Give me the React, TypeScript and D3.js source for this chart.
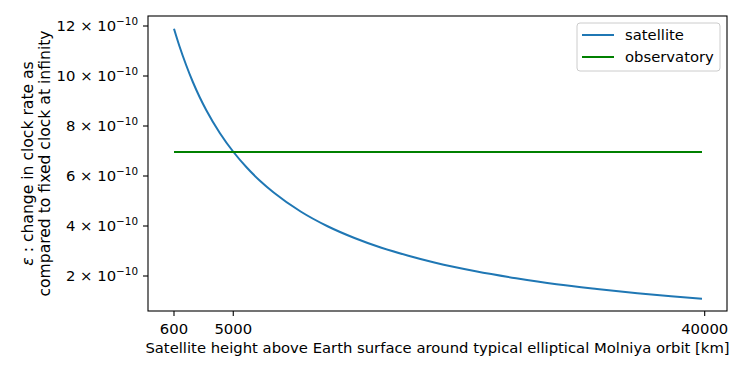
import React from 'react';
import * as d3 from 'd3';

// heights above Earth surface [km] and epsilon values (units of 1e-10)
const heights = [600, 1000, 1500, 2000, 2500, 3000, 4000, 5000, 6000, 7000, 8000, 10000, 12000, 14000, 16000, 18000, 20000, 23000, 26000, 29000, 32000, 35000, 37500, 39800];
const satellite = [11.89, 11.2, 10.44, 9.76, 9.16, 8.63, 7.72, 6.97, 6.34, 5.8, 5.34, 4.58, 3.99, 3.52, 3.13, 2.81, 2.53, 2.19, 1.91, 1.67, 1.48, 1.31, 1.19, 1.09];
const observatory = heights.map(() => 6.96);

const xTicks = [600, 5000, 40000];
const yTicks = [2, 4, 6, 8, 10, 12];

const W = 747;
const H = 374;
const margin = { top: 16, right: 20, bottom: 63, left: 148 };
const font = 'DejaVu Sans, sans-serif';
const fs = 14.8;

export default function App() {
  const x = d3.scaleLinear().domain([-1330, 41656]).range([margin.left, W - margin.right]);
  const y = d3.scaleLinear().domain([0.6, 12.4]).range([H - margin.bottom, margin.top]);

  const line = d3
    .line<number>()
    .x((_, i) => x(heights[i]))
    .y((d) => y(d))
    .curve(d3.curveMonotoneX);

  const left = margin.left;
  const right = W - margin.right;
  const top = margin.top;
  const bottom = H - margin.bottom;
  const cx = (left + right) / 2;
  const cy = (top + bottom) / 2;

  return (
    <svg width={W} height={H} style={{ position: 'absolute', left: 0, top: 0, background: 'white' }} fontFamily={font}>
      <path d={line(satellite) || ''} fill="none" stroke="#1f77b4" strokeWidth={2} />
      <path d={line(observatory) || ''} fill="none" stroke="green" strokeWidth={2} />

      <rect x={left} y={top} width={right - left} height={bottom - top} fill="none" stroke="black" strokeWidth={1.1} />

      {xTicks.map((t) => (
        <g key={t} transform={`translate(${x(t)},${bottom})`}>
          <line y2={5} stroke="black" strokeWidth={1.1} />
          <text y={23} textAnchor="middle" fontSize={fs}>
            {t}
          </text>
        </g>
      ))}

      {yTicks.map((t) => (
        <g key={t} transform={`translate(${left},${y(t)})`}>
          <line x2={-5} stroke="black" strokeWidth={1.1} />
          <text x={-10} y={5} textAnchor="end" fontSize={fs}>
            {`${t} × 10`}
            <tspan dy={-6} fontSize={10.4}>−10</tspan>
          </text>
        </g>
      ))}

      <text x={cx} y={353} textAnchor="middle" fontSize={fs}>
        Satellite height above Earth surface around typical elliptical Molniya orbit [km]
      </text>

      <g transform={`translate(33,${cy}) rotate(-90)`}>
        <text textAnchor="middle" fontSize={15.6}>
          <tspan fontStyle="italic">ε</tspan> : change in clock rate as
        </text>
        <text y={16.5} textAnchor="middle" fontSize={15.6}>
          compared to fixed clock at infinity
        </text>
      </g>

      <g transform="translate(577,23)">
        <rect width={143} height={48} rx={3} fill="white" fillOpacity={0.8} stroke="#cccccc" strokeWidth={1} />
        <line x1={5} x2={37} y1={12} y2={12} stroke="#1f77b4" strokeWidth={2} />
        <text x={48} y={17} fontSize={fs}>satellite</text>
        <line x1={5} x2={37} y1={34} y2={34} stroke="green" strokeWidth={2} />
        <text x={48} y={39} fontSize={fs}>observatory</text>
      </g>
    </svg>
  );
}
